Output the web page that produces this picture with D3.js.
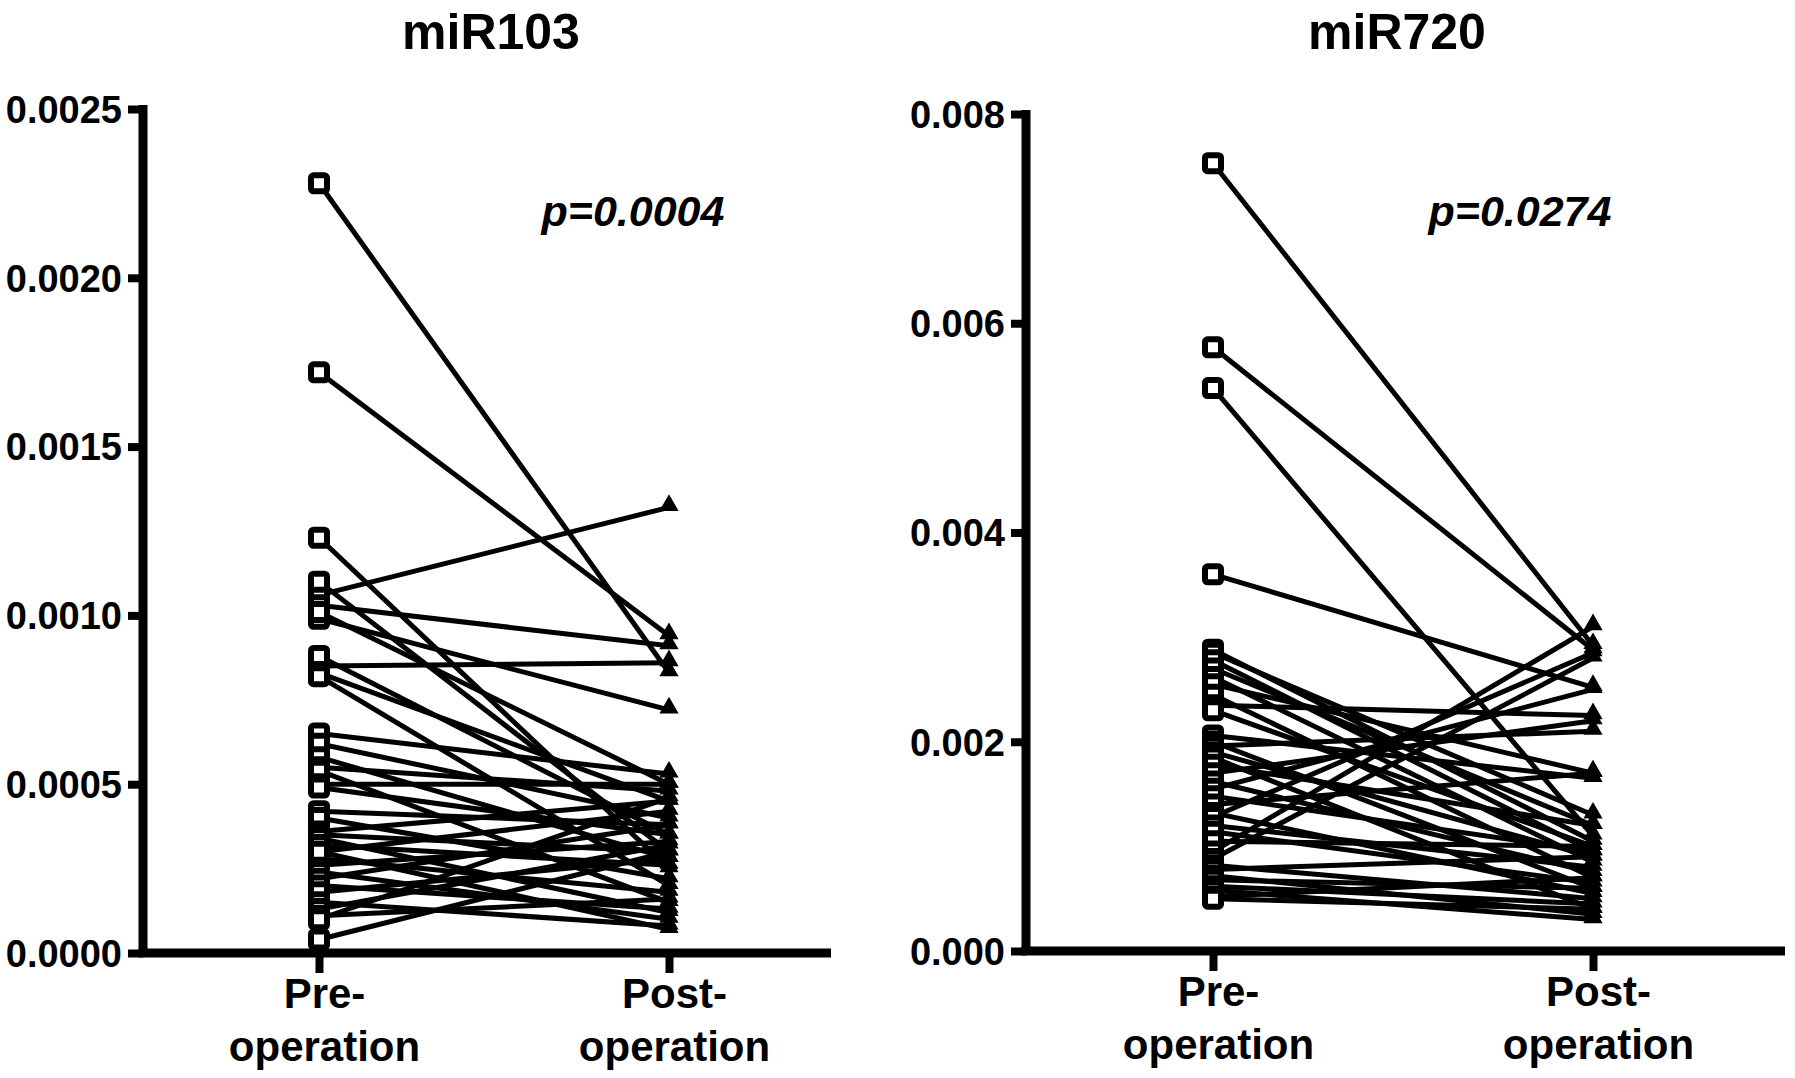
<!DOCTYPE html>
<html>
<head>
<meta charset="utf-8">
<script src="https://cdn.jsdelivr.net/npm/d3@7"></script>
<style>
  html, body { margin: 0; padding: 0; background: #fff; }
  svg { display: block; }
  text { font-family: "Liberation Sans", Arial, Helvetica, sans-serif; font-weight: bold; fill: #000; }
</style>
</head>
<body>
<svg id="chart" width="1795" height="1078"></svg>
<script>
// ---------------- data ----------------
const categories = ["Pre-operation", "Post-operation"];
const categoryLines = [["Pre-", "operation"], ["Post-", "operation"]];
const panelTitles = ["miR103", "miR720"];
const pValues = ["p=0.0004", "p=0.0274"];

const mir103Ticks = [0, 0.0005, 0.0010, 0.0015, 0.0020, 0.0025];
const mir720Ticks = [0, 0.002, 0.004, 0.006, 0.008];

const mir103Pre  = [0.00228, 0.00172, 0.00123, 0.00106, 0.00110, 0.00103, 0.00099, 0.00101, 0.00085, 0.00088,
                    0.00083, 0.00082, 0.00065, 0.00062, 0.00058, 0.00055, 0.00054, 0.00050, 0.00049, 0.00042,
                    0.00040, 0.00036, 0.00035, 0.00034, 0.00032, 0.00030, 0.00028, 0.00026, 0.00024, 0.00022,
                    0.00020, 0.00018, 0.00015, 0.00013, 0.00011, 0.00010, 0.00004, 0.00030];
const mir103Post = [0.00083, 0.00094, 0.00025, 0.00132, 0.00030, 0.00091, 0.00072, 0.00050, 0.00086, 0.00035,
                    0.00045, 0.00020, 0.00053, 0.00040, 0.00028, 0.00048, 0.00015, 0.00050, 0.00035, 0.00038,
                    0.00022, 0.00045, 0.00030, 0.00012, 0.00026, 0.00042, 0.00018, 0.00033, 0.00010, 0.00038,
                    0.00013, 0.00028, 0.00008, 0.00032, 0.00016, 0.00046, 0.00030, 0.00007];

const mir720Pre  = [0.00753, 0.00577, 0.00538, 0.00360, 0.00288, 0.00285, 0.00278, 0.00270, 0.00262, 0.00255,
                    0.00245, 0.00235, 0.00230, 0.00206, 0.00200, 0.00196, 0.00190, 0.00185, 0.00178, 0.00170,
                    0.00162, 0.00155, 0.00148, 0.00140, 0.00132, 0.00128, 0.00120, 0.00114, 0.00105, 0.00095,
                    0.00088, 0.00082, 0.00078, 0.00072, 0.00068, 0.00062, 0.00058, 0.00052, 0.00050];
const mir720Post = [0.00292, 0.00288, 0.00110, 0.00252, 0.00105, 0.00130, 0.00095, 0.00120, 0.00085, 0.00170,
                    0.00070, 0.00225, 0.00100, 0.00165, 0.00060, 0.00210, 0.00090, 0.00040, 0.00120, 0.00220,
                    0.00075, 0.00250, 0.00095, 0.00170, 0.00055, 0.00285, 0.00080, 0.00065, 0.00100, 0.00310,
                    0.00280, 0.00050, 0.00090, 0.00035, 0.00060, 0.00045, 0.00030, 0.00070, 0.00040];

// ---------------- layout ----------------
const panels = [
  { title: panelTitles[0], p: pValues[0], pre: mir103Pre, post: mir103Post, ticks: mir103Ticks,
    fmt: d3.format(".4f"), axisX: 143, xEnd: 831, yTop: 109, yBottom: 953,
    xPre: 319, xPost: 669, titleX: 491, pX: 633 },
  { title: panelTitles[1], p: pValues[1], pre: mir720Pre, post: mir720Post, ticks: mir720Ticks,
    fmt: d3.format(".3f"), axisX: 1026, xEnd: 1785, yTop: 114, yBottom: 951,
    xPre: 1213, xPost: 1593, titleX: 1397, pX: 1520 }
];

const svg = d3.select("#chart");

panels.forEach(P => {
  const g = svg.append("g");
  const y = d3.scaleLinear().domain([0, d3.max(P.ticks)]).range([P.yBottom, P.yTop]);
  const x = d3.scalePoint().domain(categories).range([P.xPre, P.xPost]);

  const pairs = P.pre.map((v, i) => ({ pre: v, post: P.post[i] }));

  // connecting lines
  g.append("g").selectAll("line").data(pairs).join("line")
    .attr("x1", x(categories[0])).attr("y1", d => y(d.pre))
    .attr("x2", x(categories[1])).attr("y2", d => y(d.post))
    .attr("stroke", "#000").attr("stroke-width", 5);

  // post: filled triangles
  const tri = d3.symbol(d3.symbolTriangle, 160);
  g.append("g").selectAll("path").data(pairs).join("path")
    .attr("d", tri)
    .attr("transform", d => `translate(${x(categories[1])},${y(d.post) - 2})`)
    .attr("fill", "#000");

  // pre: open squares
  const s = 16;
  g.append("g").selectAll("rect").data(pairs).join("rect")
    .attr("x", x(categories[0]) - s / 2).attr("y", d => y(d.pre) - s / 2)
    .attr("width", s).attr("height", s).attr("rx", 2.5)
    .attr("fill", "#fff").attr("stroke", "#000").attr("stroke-width", 6);

  // y axis
  const yAxis = g.append("g")
    .attr("transform", `translate(${P.axisX},0)`)
    .call(d3.axisLeft(y).tickValues(P.ticks).tickFormat(P.fmt).tickSize(15).tickSizeOuter(0).tickPadding(6));
  yAxis.select(".domain").attr("stroke", "#000").attr("stroke-width", 9)
    .attr("d", `M0,${P.yBottom}V${P.yTop - 4}`);
  yAxis.selectAll(".tick line").attr("stroke", "#000").attr("stroke-width", 8);
  yAxis.selectAll(".tick text").style("font-size", "38px").style("font-weight", "bold")
    .attr("fill", "#000").attr("dy", "0.35em");

  // x axis
  const xAxis = g.append("g")
    .attr("transform", `translate(0,${P.yBottom})`)
    .call(d3.axisBottom(x).tickSize(20).tickSizeOuter(0).tickFormat(""));
  xAxis.select(".domain").attr("stroke", "#000").attr("stroke-width", 9)
    .attr("d", `M${P.axisX - 4.5},0H${P.xEnd}`);
  xAxis.selectAll(".tick line").attr("stroke", "#000").attr("stroke-width", 8);
  xAxis.selectAll(".tick").each(function (d, i) {
    const t = d3.select(this).append("text")
      .attr("text-anchor", "middle").attr("x", 5)
      .style("font-size", "42px").attr("fill", "#000");
    categoryLines[i].forEach((line, j) => {
      t.append("tspan").attr("x", 5).attr("y", j === 0 ? 55 : 108).text(line);
    });
  });

  // title
  g.append("text").attr("x", P.titleX).attr("y", 49).attr("text-anchor", "middle")
    .style("font-size", "50px").text(P.title);

  // p-value
  g.append("text").attr("x", P.pX).attr("y", 226).attr("text-anchor", "middle")
    .style("font-size", "43px").style("font-style", "italic").text(P.p);
});
</script>
</body>
</html>
